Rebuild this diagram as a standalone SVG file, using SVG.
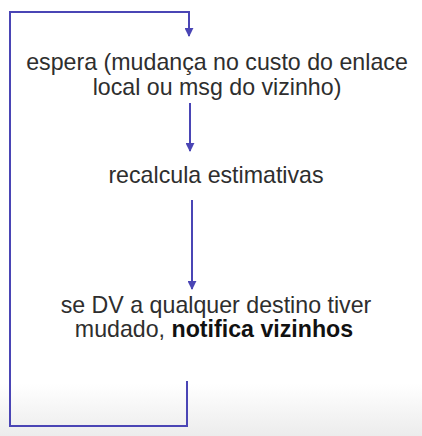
<svg xmlns="http://www.w3.org/2000/svg" width="422" height="436" viewBox="0 0 422 436">
<defs>
<marker id="ah" viewBox="0 0 10 10" refX="9" refY="5" markerWidth="4.5" markerHeight="4.5" orient="auto" markerUnits="strokeWidth">
<path d="M0,0 L10,5 L0,10 z" fill="#4a45b5"/>
</marker>
<linearGradient id="bg" x1="0" y1="0" x2="0" y2="1">
<stop offset="0" stop-color="#ffffff"/>
<stop offset="0.88" stop-color="#ffffff"/>
<stop offset="1" stop-color="#ececec"/>
</linearGradient>
</defs>
<style>
.t{font-family:"Liberation Sans",Arial,sans-serif;font-size:23.2px;fill:#2e2e2e;text-anchor:middle}
.b{font-weight:bold;fill:#111}
.c{fill:none;stroke:#4a45b5;stroke-width:2}
</style>
<rect width="422" height="436" fill="url(#bg)"/>
<g id="connectors">
<path class="c" d="M187,381 V426 H10 V12 H189 V36" marker-end="url(#ah)"/>
<path class="c" d="M190,103 V151" marker-end="url(#ah)"/>
<path class="c" d="M192,200 V289" marker-end="url(#ah)"/>
</g>
<g id="espera">
<text class="t" x="217" y="69.5">espera (mudança no custo do enlace</text>
<text class="t" x="217" y="95">local ou msg do vizinho)</text>
</g>
<g id="recalcula">
<text class="t" x="216" y="183">recalcula estimativas</text>
</g>
<g id="notifica">
<text class="t" x="216" y="313">se DV a qualquer destino tiver</text>
<text class="t" x="214" y="337">mudado, <tspan class="b">notifica vizinhos</tspan></text>
</g>
</svg>
